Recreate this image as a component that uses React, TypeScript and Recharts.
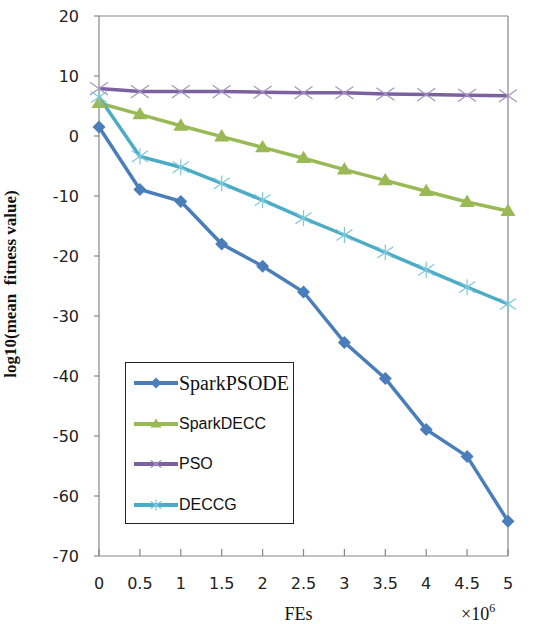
import { Legend, Line, LineChart, ReferenceLine, XAxis, YAxis } from 'recharts';

const fes = [0, 0.5, 1, 1.5, 2, 2.5, 3, 3.5, 4, 4.5, 5];
const sparkPsode = [1.5, -8.9, -10.9, -18, -21.7, -26, -34.4, -40.4, -48.9, -53.4, -64.2];
const sparkDecc = [5.5, 3.6, 1.7, -0.1, -1.9, -3.7, -5.6, -7.4, -9.2, -11, -12.5];
const pso = [7.9, 7.4, 7.4, 7.4, 7.3, 7.2, 7.2, 7.0, 6.9, 6.8, 6.7];
const deccg = [6.5, -3.4, -5.2, -7.9, -10.7, -13.7, -16.5, -19.4, -22.3, -25.2, -28];
const yTicks = [20, 10, 0, -10, -20, -30, -40, -50, -60, -70];
const legendOrder = ['sparkPsode', 'sparkDecc', 'pso', 'deccg'];

const data = fes.map((x, i) => ({
  x,
  sparkPsode: sparkPsode[i],
  sparkDecc: sparkDecc[i],
  pso: pso[i],
  deccg: deccg[i],
}));

const BLUE = '#4a7ebb';
const GREEN = '#98b954';
const PURPLE = '#7d60a0';
const TEAL = '#4bacc6';
const AXIS = '#868686';

type MarkProps = { cx?: number; cy?: number; s?: number };

function Diamond({ cx = 0, cy = 0, s = 6.5 }: MarkProps) {
  return <polygon points={`${cx},${cy - s} ${cx + s},${cy} ${cx},${cy + s} ${cx - s},${cy}`} fill={BLUE} />;
}

function Triangle({ cx = 0, cy = 0, s = 7.5 }: MarkProps) {
  return <polygon points={`${cx},${cy - s} ${cx + s},${cy + s * 0.65} ${cx - s},${cy + s * 0.65}`} fill={GREEN} />;
}

function Cross({ cx = 0, cy = 0, s = 9 }: MarkProps) {
  return (
    <g stroke="#a595c2" strokeWidth={1.2}>
      <line x1={cx - s} y1={cy - s * 0.7} x2={cx + s} y2={cy + s * 0.7} />
      <line x1={cx - s} y1={cy + s * 0.7} x2={cx + s} y2={cy - s * 0.7} />
    </g>
  );
}

function Asterisk({ cx = 0, cy = 0, s = 8 }: MarkProps) {
  return (
    <g stroke="#7ec8dc" strokeWidth={1.2}>
      <line x1={cx - s} y1={cy - s * 0.7} x2={cx + s} y2={cy + s * 0.7} />
      <line x1={cx - s} y1={cy + s * 0.7} x2={cx + s} y2={cy - s * 0.7} />
      <line x1={cx} y1={cy - s} x2={cx} y2={cy + s} />
    </g>
  );
}

const markers: Record<string, (p: MarkProps) => JSX.Element> = {
  sparkPsode: Diamond,
  sparkDecc: Triangle,
  pso: Cross,
  deccg: Asterisk,
};

function dotOf(key: string) {
  const M = markers[key];
  return (p: any) => <M key={`${key}-${p.index}`} cx={p.cx} cy={p.cy} />;
}

function LegendBox({ payload }: { payload?: any[] }) {
  const entries = [...(payload || [])].sort(
    (a, b) => legendOrder.indexOf(a.dataKey) - legendOrder.indexOf(b.dataKey),
  );
  return (
    <div
      style={{
        width: 169,
        height: 162,
        border: '1px solid #222',
        boxSizing: 'border-box',
        background: '#fff',
      }}
    >
      {entries.map((entry) => {
        const M = markers[entry.dataKey];
        const serif = entry.dataKey === 'sparkPsode';
        return (
          <div key={entry.dataKey} style={{ height: 40.5, display: 'flex', alignItems: 'center' }}>
            <svg width={53} height={20} style={{ flex: 'none' }}>
              <line x1={8} y1={10} x2={52} y2={10} stroke={entry.color} strokeWidth={4} />
              <M cx={30} cy={10} s={5.5} />
            </svg>
            <span
              style={{
                fontFamily: serif ? '"Liberation Serif", serif' : '"Liberation Sans", sans-serif',
                fontSize: serif ? 20 : 16,
                color: '#111',
                lineHeight: 1,
              }}
            >
              {entry.value}
            </span>
          </div>
        );
      })}
    </div>
  );
}

function YTitle({ viewBox }: any) {
  const cy = viewBox.y + viewBox.height / 2 - 2;
  return (
    <text
      transform={`translate(${viewBox.x - 9}, ${cy}) rotate(-90)`}
      textAnchor="middle"
      dominantBaseline="central"
      fontFamily="Liberation Serif, serif"
      fontWeight="bold"
      fontSize={17}
      fill="#111"
      style={{ whiteSpace: 'pre' }}
    >
      {'log10(mean  fitness value)'}
    </text>
  );
}

function XTitle({ viewBox }: any) {
  const base = viewBox.y + 64;
  const right = viewBox.x + viewBox.width;
  return (
    <g fontFamily="Liberation Serif, serif" fill="#111">
      <text x={viewBox.x + viewBox.width / 2 - 5} y={base} textAnchor="middle" fontSize={18}>
        FEs
      </text>
      <text x={right - 47} y={base} fontSize={18}>
        ×10<tspan dy={-8} fontSize={12}>6</tspan>
      </text>
    </g>
  );
}

export default function App() {
  return (
    <div style={{ position: 'absolute', left: 0, top: 0, width: 535, height: 624, background: '#fff' }}>
      <LineChart width={535} height={624} data={data} margin={{ top: 16, right: 27, bottom: 28, left: 19 }}>
        <XAxis
          type="number"
          dataKey="x"
          domain={[0, 5]}
          ticks={fes}
          height={40}
          axisLine={{ stroke: AXIS, strokeWidth: 1.2 }}
          tickLine={{ stroke: AXIS, strokeWidth: 1.2 }}
          tickSize={-7}
          tickMargin={29}
          tick={{ fontFamily: 'DejaVu Sans', fontSize: 16, fill: '#222' }}
          interval={0}
          label={XTitle}
        />
        <YAxis
          type="number"
          domain={[-70, 20]}
          ticks={yTicks}
          width={80}
          axisLine={{ stroke: AXIS, strokeWidth: 1.2 }}
          tickLine={{ stroke: AXIS, strokeWidth: 1.2 }}
          tickSize={5}
          tickMargin={15}
          tick={{ fontFamily: 'DejaVu Sans', fontSize: 16, fill: '#222' }}
          interval={0}
          label={YTitle}
        />
        <ReferenceLine y={20} stroke={AXIS} strokeWidth={1.2} />
        <ReferenceLine x={5} stroke={AXIS} strokeWidth={1.2} />
        <Line
          type="linear"
          dataKey="sparkPsode"
          name="SparkPSODE"
          stroke={BLUE}
          strokeWidth={3.5}
          dot={dotOf('sparkPsode')}
          activeDot={false}
          isAnimationActive={false}
        />
        <Line
          type="linear"
          dataKey="sparkDecc"
          name="SparkDECC"
          stroke={GREEN}
          strokeWidth={3.5}
          dot={dotOf('sparkDecc')}
          activeDot={false}
          isAnimationActive={false}
        />
        <Line
          type="linear"
          dataKey="pso"
          name="PSO"
          stroke={PURPLE}
          strokeWidth={3.5}
          dot={dotOf('pso')}
          activeDot={false}
          isAnimationActive={false}
        />
        <Line
          type="linear"
          dataKey="deccg"
          name="DECCG"
          stroke={TEAL}
          strokeWidth={3.5}
          dot={dotOf('deccg')}
          activeDot={false}
          isAnimationActive={false}
        />
        <Legend
          layout="vertical"
          align="center"
          verticalAlign="middle"
          content={LegendBox}
          wrapperStyle={{ left: 125, top: 362, width: 169, height: 162 }}
        />
      </LineChart>
    </div>
  );
}
